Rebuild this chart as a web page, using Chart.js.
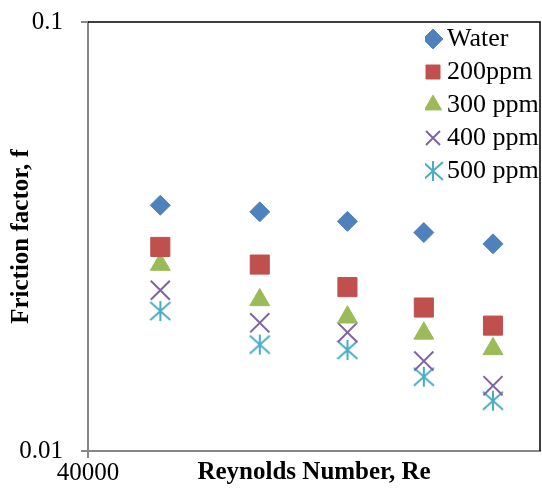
<!DOCTYPE html>
<html>
<head>
<meta charset="utf-8">
<script src="https://cdn.jsdelivr.net/npm/chart.js@4.4.1/dist/chart.umd.min.js"></script>
<style>
  html, body { margin: 0; padding: 0; background: #ffffff; }
</style>
</head>
<body>
<canvas id="frictionChart" width="542" height="493"></canvas>
<script>
// Reynolds numbers (x) and friction factor per concentration (y)
const reynolds = [56000, 78000, 97400, 114300, 129600];
const water  = [0.0374, 0.0361, 0.0343, 0.0323, 0.0304];
const ppm200 = [0.0299, 0.0272, 0.0241, 0.0216, 0.0196];
const ppm300 = [0.0272, 0.0225, 0.0205, 0.0188, 0.0173];
const ppm400 = [0.0237, 0.0199, 0.0189, 0.0162, 0.0142];
const ppm500 = [0.0212, 0.0177, 0.0172, 0.0149, 0.0131];
const seriesLabels = ['Water', '200ppm', '300 ppm', '400 ppm', '500 ppm'];
const xTicks = [40000];
const yTicks = [0.01, 0.1];

const serif = "'Liberation Serif', 'Times New Roman', serif";
Chart.defaults.font.family = serif;
Chart.defaults.color = '#000';

// asterisk marker like the excel one (vertical bar + X, no horizontal)
function makeStar(color, size) {
  const c = document.createElement('canvas');
  c.width = size; c.height = size;
  const g = c.getContext('2d');
  const m = size / 2, r = size / 2 - 1;
  g.strokeStyle = color;
  g.lineWidth = 2;
  g.beginPath();
  g.moveTo(m, m - r); g.lineTo(m, m + r);
  g.moveTo(m - r, m - r * 0.9); g.lineTo(m + r, m + r * 0.9);
  g.moveTo(m + r, m - r * 0.9); g.lineTo(m - r, m + r * 0.9);
  g.stroke();
  return c;
}

function points(ys) {
  return reynolds.map((x, i) => ({ x: x, y: ys[i] }));
}

// black frame on top and right of plot area
const framePlugin = {
  id: 'frame',
  beforeDatasetsDraw(chart) {
    const a = chart.chartArea, ctx = chart.ctx;
    ctx.save();
    ctx.strokeStyle = '#000';
    ctx.lineWidth = 1.5;
    ctx.beginPath();
    ctx.moveTo(a.left, a.top);
    ctx.lineTo(a.right, a.top);
    ctx.lineTo(a.right, a.bottom);
    ctx.stroke();
    ctx.restore();
  }
};

// put legend in the top right corner of the plot
const legendPlace = {
  id: 'legendPlace',
  afterLayout(chart) {
    chart.legend.left = chart.chartArea.right - 115;
    chart.legend.top = chart.chartArea.top - 3;
  }
};

const ctx = document.getElementById('frictionChart').getContext('2d');
new Chart(ctx, {
  type: 'scatter',
  data: {
    datasets: [
      {
        label: seriesLabels[0], data: points(water),
        pointStyle: 'rectRot', pointRadius: 10, borderWidth: 1,
        backgroundColor: '#4F81BD', borderColor: '#4F81BD'
      },
      {
        label: seriesLabels[1], data: points(ppm200),
        pointStyle: 'rect', pointRadius: 13.5, borderWidth: 1,
        backgroundColor: '#C0504D', borderColor: '#C0504D'
      },
      {
        label: seriesLabels[2], data: points(ppm300),
        pointStyle: 'triangle', pointRadius: 11.5, borderWidth: 1,
        backgroundColor: '#9BBB59', borderColor: '#9BBB59'
      },
      {
        label: seriesLabels[3], data: points(ppm400),
        pointStyle: 'crossRot', pointRadius: 13.5, borderWidth: 2,
        backgroundColor: '#8064A2', borderColor: '#8064A2'
      },
      {
        label: seriesLabels[4], data: points(ppm500),
        pointStyle: makeStar('#4BACC6', 22), borderWidth: 2,
        backgroundColor: '#4BACC6', borderColor: '#4BACC6'
      }
    ]
  },
  options: {
    responsive: false,
    animation: false,
    layout: { autoPadding: false, padding: { top: 22, right: 2, left: 0, bottom: 0 } },
    plugins: {
      tooltip: { enabled: false },
      legend: {
        position: 'chartArea',
        align: 'start',
        labels: {
          usePointStyle: true,
          boxWidth: 2,
          boxHeight: 14,
          padding: 7,
          color: '#000',
          font: { size: 26, family: serif }
        }
      }
    },
    scales: {
      x: {
        type: 'linear',
        min: 40000,
        max: 140000,
        afterBuildTicks(scale) { scale.ticks = xTicks.map(v => ({ value: v })); },
        afterFit(scale) { scale.height = 42; },
        grid: { drawOnChartArea: false, drawTicks: true, tickLength: 7, color: '#868686', lineWidth: 2 },
        border: { color: '#868686', width: 2 },
        ticks: { padding: 0, maxRotation: 0, font: { size: 25 }, callback: v => String(v) },
        title: {
          display: true,
          text: 'Reynolds Number, Re',
          font: { size: 25, weight: 'bold' },
          padding: { top: 0, bottom: 5 }
        }
      },
      y: {
        type: 'logarithmic',
        min: 0.01,
        max: 0.1,
        afterBuildTicks(scale) { scale.ticks = yTicks.map(v => ({ value: v })); },
        afterFit(scale) {
          scale.width = 88;
          scale.paddingTop = 0;
          scale.paddingBottom = 0;
        },
        grid: { drawOnChartArea: false, drawTicks: true, tickLength: 7, color: '#868686', lineWidth: 2 },
        border: { color: '#868686', width: 2 },
        ticks: { padding: 18, font: { size: 25 }, callback: v => String(v) },
        title: {
          display: true,
          text: 'Friction factor, f',
          font: { size: 25, weight: 'bold' },
          padding: { top: 7, bottom: 0 }
        }
      }
    }
  },
  plugins: [framePlugin, legendPlace]
});
</script>
</body>
</html>
